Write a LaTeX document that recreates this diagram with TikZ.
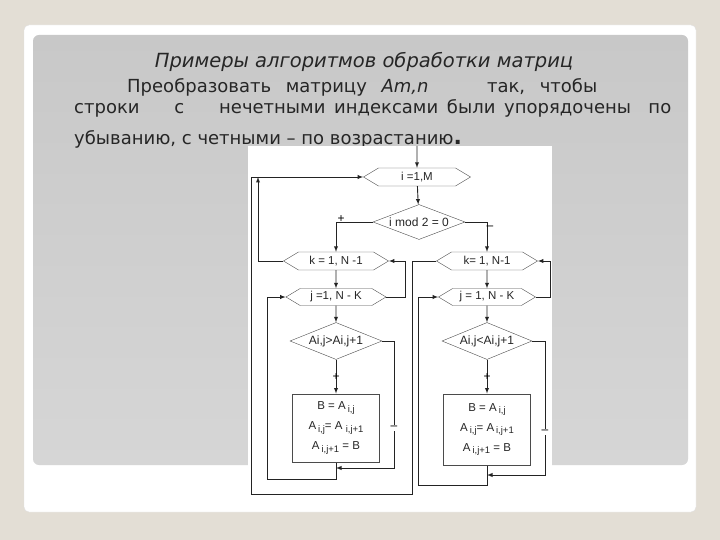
\documentclass[tikz,border=0pt]{standalone}
\usepackage{fontspec}
\setmainfont{DejaVu Sans}
\newfontfamily\chartfont{Liberation Sans}
\usetikzlibrary{positioning}
\usetikzlibrary{shapes.geometric, shapes.symbols}
\usetikzlibrary{arrows}
\definecolor{deskbg}{RGB}{227,222,213}
\definecolor{panelgray}{RGB}{200,200,200}
\definecolor{panellight}{RGB}{214,214,214}
\definecolor{chartline}{RGB}{35,35,35}
\definecolor{chartedge}{RGB}{75,75,75}
\newcommand{\gp}[1]{\hskip 0pt plus #1fil\relax}
\newcommand{\idx}[1]{\raisebox{-2.5pt}{\fontsize{9.5}{9.5}\selectfont #1}}

\begin{document}
\begin{tikzpicture}[x=1pt, y=-1pt,
    slide text/.style={inner sep=0pt, anchor=base west, text=black!85,
        font=\fontsize{18}{18}\selectfont},
    hex style/.style={
        signal, signal to=west and east, signal pointer angle=62,
        draw=chartedge, fill=white, inner sep=0pt,
        minimum height=18pt, text=black!85,
        font=\chartfont\fontsize{11.5}{11.5}\selectfont
    },
    cond style/.style={
        diamond, aspect=2.5, draw=chartedge, fill=white, inner sep=0pt,
        minimum width=91pt, minimum height=36pt, text=black!85,
        font=\chartfont\fontsize{12}{12}\selectfont
    },
    box style/.style={
        rectangle, draw=chartedge, line width=1pt, fill=white, minimum width=87pt,
        align=center, text=black!85,
        font=\chartfont\fontsize{11.5}{20}\selectfont
    },
    flow/.style={chartline, line width=0.9pt},
    arrow/.style={flow, -latex},
    sign/.style={inner sep=1.5pt, text=black, font=\chartfont\fontsize{12}{12}\selectfont}
]
\useasboundingbox (0,0) rectangle (720,540);
\fill[deskbg] (0,0) rectangle (720,540);

% slide
\fill[white, draw=black!12, rounded corners=5pt] (24,25) rectangle (696,512);
\shade[top color=panelgray, bottom color=panellight, rounded corners=6pt] (33,35) rectangle (688,465);

\node[slide text, anchor=base, font=\fontsize{19.5}{19.5}\selectfont] (title) at (364,68) {\itshape Примеры алгоритмов обработки матриц};
\node[slide text] (lineA) at (127,93) {\hbox to 470pt{Преобразовать\gp{1}матрицу\gp{1}\textit{Am,n}\gp{4}так,\gp{1}чтобы}};
\node[slide text] (lineB) at (74,114) {\hbox to 597pt{строки\gp{4}с\gp{4}нечетными\gp{1}индексами\gp{1}были\gp{1}упорядочены\gp{2}по}};
\node[slide text] (lineC) at (74,145) {убыванию, с четными – по возрастанию\textbf{\fontsize{22}{22}\selectfont .}};

% flowchart
\fill[white] (248,146) rectangle (552,498);

\node[hex style, minimum width=107pt] (loopi) at (417,177) {i =1,M};
\node[cond style, minimum width=92pt, minimum height=35pt] (test) at (419,222) {i mod 2 = 0};

\node[hex style, minimum width=105pt] (kL) at (336,261) {k = 1, N -1};
\node[hex style, minimum width=100pt, minimum height=17pt] (jL) at (336,297) {j =1, N - K};
\node[cond style, minimum width=92pt, minimum height=37pt] (cL) at (336,341) {Ai,j>Ai,j+1};
\node[box style, minimum height=68pt] (bL) at (336,428)
    {B = A\,\idx{i,j}\\A\,\idx{i,j}= A\ \idx{i,j+1}\\A\,\idx{i,j+1} = B};

\node[hex style, minimum width=101pt] (kR) at (487,261) {k= 1, N-1};
\node[hex style, minimum width=97pt, minimum height=17pt] (jR) at (487,297) {j = 1, N - K};
\node[cond style, minimum width=90pt, minimum height=37pt] (cR) at (487,341) {Ai,j<Ai,j+1};
\node[box style, minimum height=71pt] (bR) at (487,429.5)
    {B = A\,\idx{i,j}\\A\,\idx{i,j}= A\,\idx{i,j+1}\\A\,\idx{i,j+1} = B};

\coordinate (entry) at (417,146);
\coordinate (mergeL) at (336,468);
\coordinate (mergeR) at (487,475);

\draw[arrow] (entry) -- (loopi);
\draw[arrow] (loopi) -- (test);
\draw[arrow] (test.west) -| (kL.north);
\node[sign] (plusT) at (341,219) {+};
\draw[arrow] (test.east) -| (kR.north);
\node[sign] (minusT) at (490,228) {–};

% left branch
\draw[arrow] (kL) -- (jL);
\draw[arrow] (jL) -- (cL);
\draw[arrow] (cL) -- node[sign] (plusL) {+} (bL);
\draw[arrow] (cL.east) -| (394,468) -- (mergeL);
\node[sign, fill=white] (minusL) at (394,428) {–};
\draw[arrow] (bL.south) |- (267,479) |- (jL.west);
\draw[arrow] (jL.east) -- (405,297) |- (kL.east);
\draw[arrow] (kL.west) -| (258,177);

% right branch
\draw[arrow] (kR) -- (jR);
\draw[arrow] (jR) -- (cR);
\draw[arrow] (cR) -- node[sign] (plusR) {+} (bR);
\draw[arrow] (cR.east) -| (545,475) -- (mergeR);
\node[sign, fill=white] (minusR) at (545,432) {–};
\draw[arrow] (bR.south) |- (418,485) |- (jR.west);
\draw[arrow] (jR.east) -- (550,297) |- (kR.east);
\draw[arrow] (kR.west) -| (412,494) -| (251,177) -- (loopi.west);

\end{tikzpicture}
\end{document}
